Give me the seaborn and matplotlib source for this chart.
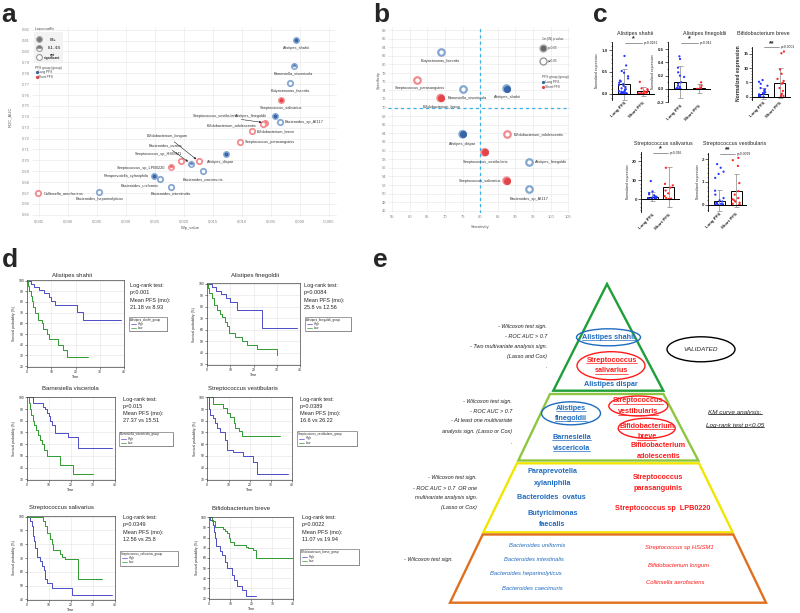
import numpy as np
import pandas as pd
import matplotlib
matplotlib.use("Agg")
import matplotlib.pyplot as plt
import seaborn as sns
from matplotlib import font_manager
from matplotlib.patches import Polygon, Ellipse, Rectangle
from matplotlib.ticker import AutoMinorLocator, FuncFormatter
from matplotlib.transforms import blended_transform_factory

np.random.seed(3)
W, H = 800, 613

# ---------------- panel a: Wilcoxon p value vs ROC AUC ----------------
a_species = ["Alistipes_shahii", "Barnesiella_viscericola", "Butyricimonas_faecalis",
             "Streptococcus_salivarius", "Alistipes_finegoldii", "Bacteroides_sp_AI117",
             "Streptococcus_vestibularis", "Bifidobacterium_adolescentis", "Bifidobacterium_breve",
             "Streptococcus_parasanguinis", "Alistipes_dispar", "Streptococcus_sp_HSISM1",
             "Bacteroides_ovatus", "Bifidobacterium_longum", "Bacteroides_caecimuris",
             "Streptococcus_sp_LPB0220", "Paraprevotella_xylaniphila", "Bacteroides_uniformis",
             "Bacteroides_intestinalis", "Bacteroides_heparinolyticus", "Collinsella_aerofaciens"]
a_pvalue = [0.0006, 0.0011, 0.0017, 0.0033, 0.0043, 0.0035, 0.0060, 0.0063, 0.0083, 0.0103,
            0.0128, 0.0205, 0.0188, 0.0174, 0.0167, 0.0222, 0.0252, 0.0241, 0.0223, 0.0346, 0.0451]
a_auc = [0.811, 0.787, 0.771, 0.755, 0.741, 0.735, 0.7345, 0.733, 0.727, 0.717,
         0.706, 0.699, 0.697, 0.699, 0.690, 0.694, 0.686, 0.683, 0.676, 0.671, 0.670]
a_group = ["Long", "Long", "Long", "Short", "Long", "Long", "Short", "Short", "Short", "Short",
           "Long", "Short", "Long", "Short", "Long", "Short", "Long", "Long", "Long", "Long", "Short"]
a_lasso = ["full", "half", "none", "full", "full", "none", "half", "none", "none", "none",
           "full", "none", "half", "none", "none", "half", "full", "none", "none", "none", "none"]

# ---------------- panel b: sensitivity vs specificity ----------------
b_species = ["Butyricimonas_faecalis", "Streptococcus_parasanguinis", "Barnesiella_viscericola",
             "Alistipes_shahii", "Bifidobacterium_breve", "Alistipes_dispar",
             "Bifidobacterium_adolescentis", "Streptococcus_vestibularis", "Alistipes_finegoldii",
             "Streptococcus_salivarius", "Bacteroides_sp_AI117"]
b_sens = [68.75, 62.0, 75.0, 87.5, 68.75, 75.0, 87.5, 81.25, 93.75, 87.5, 93.75]
b_spec = [82.9, 76.5, 74.4, 74.4, 72.2, 63.8, 63.8, 59.6, 57.4, 53.0, 51.0]
b_group = ["Long", "Short", "Long", "Long", "Short", "Long", "Short", "Short", "Long", "Short", "Long"]
b_sig = [False, False, False, True, True, True, False, True, False, True, False]

# ---------------- panel c: normalised expression ----------------
c_titles = ["Alistipes shahii", "Alistipes finegoldii", "Bifidobacterium breve",
            "Streptococcus salivarius", "Streptococcus vestibularis"]
c_groups = ["Long PFS", "Short PFS"]
c_mean = [[0.21, 0.05], [0.105, 0.01], [1.0, 4.7], [1.3, 6.3], [0.19, 0.62]]
c_sd = [[0.35, 0.10], [0.235, 0.07], [1.9, 5.2], [2.2, 10.7], [0.46, 0.73]]
c_long = [[0.87, 0.65, 0.52, 0.48, 0.40, 0.35, 0.30, 0.28, 0.25, 0.22, 0.20, 0.18, 0.15, 0.12,
           0.10, 0.08, 0.06, 0.05, 0.04, 0.03, 0.02, 0.01, 0.01, 0.0, 0.0, 0.0, 0.0],
          [0.49, 0.45, 0.32, 0.25, 0.20, 0.18, 0.10, 0.08, 0.05, 0.03, 0.02, 0.01, 0.0, 0.0, 0.0, 0.0],
          [5.8, 5.2, 4.5, 3.8, 3.0, 2.5, 2.0, 1.5, 1.2, 1.0, 0.8, 0.5, 0.3, 0.2, 0.1, 0.05, 0.0, 0.0],
          [9.5, 4.0, 3.2, 2.5, 2.0, 1.5, 1.2, 1.0, 0.8, 0.5, 0.3, 0.2, 0.1, 0.0, 0.0, 0.0],
          [1.78, 1.62, 1.45, 1.35, 1.18, 0.62, 0.45, 0.30, 0.20, 0.15, 0.10, 0.08, 0.05, 0.03,
           0.02, 0.01, 0.0, 0.0]]
c_short = [[0.27, 0.12, 0.10, 0.08, 0.05, 0.03, 0.02, 0.01, 0.0, 0.0, 0.0, 0.0, 0.0],
           [0.10, 0.05, 0.02, 0.01, 0.0, 0.0, 0.0, 0.0, 0.0],
           [15.8, 15.2, 9.5, 8.0, 6.2, 5.5, 4.8, 4.5, 3.0, 2.0, 1.0, 0.5, 0.2, 0.0],
           [16.5, 8.0, 7.2, 6.0, 4.5, 3.0, 1.5, 0.5, 0.2, 0.0, 0.0],
           [2.05, 1.95, 1.70, 0.95, 0.60, 0.45, 0.30, 0.25, 0.20, 0.15, 0.10, 0.05, 0.02, 0.0]]
c_stars = ["*", "*", "**", "*", "**"]
c_pvals = ["p=0.0181", "p=0.041", "p<0.0001", "p=0.016", "p=0.0029"]

# ---------------- panel d: Kaplan-Meier curves ----------------
km_titles = ["Alistipes shahii", "Alistipes finegoldii", "Barnesiella visceriola",
             "Streptococcus vestibularis", "Streptococcus salivarius", "Bifidobacterium breve"]
km_groups = ["Alistipes_shahii_group", "Alistipes_finegoldii_group", "Barnesiella_viscericola_group",
             "Streptococcus_vestibularis_group", "Streptococcus_salivarius_group",
             "Bifidobacterium_breve_group"]
km_high_t = [[0, 1.5, 3, 5, 7, 9, 10, 11.5, 20.5, 23.2, 38.8],
             [0, 2, 4, 6, 8, 10, 12.8, 23.5, 38.6],
             [0, 2.9, 7.4, 8.2, 9, 10, 10.5, 11.2, 12.7, 18.8, 23.3, 38.5],
             [0, 1, 1.5, 2.8, 3.5, 4.4, 6, 8.4, 9.2, 12.3, 17, 21.4, 23.3, 38],
             [0, 1.4, 2.3, 2.8, 3.2, 3.8, 4.4, 5.9, 6.7, 7.7, 8.3, 8.9, 11.2, 20.3, 38.5],
             [0, 0.5, 1.7, 2.2, 2.5, 3.4, 5.1, 5.9, 7.6, 8.5, 10.8, 11.6, 13.2, 15.6, 17.3, 22.1]]
km_high_s = [[100, 97, 94, 91, 88, 85, 81, 77, 71, 63, 63],
             [100, 97, 94, 91, 88, 84, 77.7, 61.4, 61.4],
             [100, 95, 92, 90, 87, 84, 80, 76, 69.5, 66.5, 56.6, 56.6],
             [100, 90, 85, 82, 78, 74, 70, 64, 55, 53, 50, 45, 35, 35],
             [100, 97, 93, 86, 82, 77, 71, 68, 64, 61, 55, 52, 48, 43, 43],
             [100, 97, 92, 85, 80, 72, 67, 63, 56, 50, 43, 38, 32, 28, 22, 22]]
km_low_t = [[0, 0.5, 1, 1.5, 2, 2.6, 3.3, 4.7, 6.0, 6.7, 8.1, 9.2, 12.9, 15.0, 16.4, 25.3],
            [0, 0.5, 1, 2, 3, 4.2, 5.5, 6.3, 7.7, 8.5, 9.6, 12, 14.9, 17.1, 21.4, 30],
            [0, 1, 1.5, 2, 2.5, 3, 4, 5, 6, 6.7, 7.5, 9, 15, 21, 30],
            [0, 2.5, 7.6, 9.2, 10.8, 12.4, 13.2, 14.7, 16.3, 34.3],
            [0, 7.4, 8.2, 8.9, 10.5, 11.2, 12, 15, 16, 17.3, 23.3, 34],
            [0, 1.5, 2.5, 6.7, 7.5, 8.3, 9.2, 10, 11.6, 17.3, 18.5, 20.6, 22.3, 40]]
km_low_s = [[100, 95, 90, 86, 81, 75, 70, 63, 60, 55, 50, 45, 40, 35, 28.5, 28.5],
            [100, 96, 92, 88, 82, 77, 74, 71, 67, 63, 57.6, 54, 50, 46.7, 43, 38],
            [100, 95, 90, 85, 80, 76, 72, 68, 64, 60, 55, 50, 42, 34.5, 34.5],
            [100, 94, 91, 87, 83, 78, 74, 71, 67, 67],
            [100, 97, 93, 88, 84, 80, 76, 73, 71, 69, 55, 55],
            [100, 96, 90, 88, 86, 84, 80, 76, 73, 71, 70, 68, 60, 60]]
km_logrank = ["p<0.001", "p=0.0084", "p=0.015", "p=0.0389", "p=0.0349", "p=0.0022"]
km_meanpfs = ["21.18 vs 8.93", "25.8 vs 12.56", "27.37 vs 15.51", "16.6 vs 26.22",
              "12.56 vs 25.8", "11.07 vs 19.94"]

# ---------------- style ----------------
sns.set_theme(style="white")
plt.rcParams["font.family"] = ["Liberation Sans", "DejaVu Sans"]
names = {f.name for f in font_manager.fontManager.ttflist}
E_FONT = "Liberation Sans Narrow" if "Liberation Sans Narrow" in names else "Liberation Sans"
E_K = 1.0 if E_FONT == "Liberation Sans Narrow" else 0.82

FACE = {"Long": "#3565a6", "Short": "#e2444a"}
EDGE = {"Long": "#86a6d2", "Short": "#f08c8f"}
KM_BLUE, KM_GREEN = "#4b4bc6", "#2f9a2f"
E_BLUE, E_RED = "#1f6cc0", "#ff1a1a"

fig = plt.figure(figsize=(W / 100, H / 100), dpi=100)


def px_axes(x0, y0, x1, y1, **kw):
    return fig.add_axes([x0 / W, 1 - y1 / H, (x1 - x0) / W, (y1 - y0) / H], **kw)


def light_grid(ax):
    ax.grid(True, color="#ececec", lw=0.5)
    for s in ax.spines.values():
        s.set_visible(False)
    ax.tick_params(length=0, labelsize=3.0, labelcolor="#888888", pad=1.5)


# ---------------- panel a ----------------
ax = px_axes(32, 27, 337, 217)
df_a = pd.DataFrame({"species": a_species, "p": a_pvalue, "auc": a_auc,
                     "group": a_group, "lasso": a_lasso})
for (g, lv), sub in df_a.groupby(["group", "lasso"]):
    if lv == "full":
        sns.scatterplot(data=sub, x="p", y="auc", ax=ax, s=15, color=FACE[g],
                        edgecolor=EDGE[g], linewidth=1.1, zorder=3, legend=False)
    elif lv == "none":
        sns.scatterplot(data=sub, x="p", y="auc", ax=ax, s=15, color="white",
                        edgecolor=EDGE[g], linewidth=1.3, zorder=3, legend=False)
    else:
        ax.plot(sub["p"], sub["auc"], "o", ms=3.9, fillstyle="top", mfc=FACE[g],
                markerfacecoloralt="white", mec=EDGE[g], mew=1.1, zorder=3)

a_labels = {  # ha, dx px, dy px, arrow
    "Alistipes_shahii": ("center", 0, 8, False), "Barnesiella_viscericola": ("center", 0, 8, False),
    "Butyricimonas_faecalis": ("center", 0, 8, False), "Streptococcus_salivarius": ("center", 0, 8, False),
    "Alistipes_finegoldii": ("right", -8, 0, False), "Bacteroides_sp_AI117": ("left", 5, 0, False),
    "Streptococcus_vestibularis": ("right", -27, -7, True),
    "Bifidobacterium_adolescentis": ("right", -7, 1, False),
    "Bifidobacterium_breve": ("left", 5, 0, False), "Streptococcus_parasanguinis": ("left", 5, 0, False),
    "Alistipes_dispar": ("center", -5, 8, False), "Streptococcus_sp_HSISM1": ("right", 1, -7.5, False),
    "Bacteroides_ovatus": ("right", -9, -18.5, True), "Bifidobacterium_longum": ("right", -11, -25, True),
    "Bacteroides_caecimuris": ("center", 0, 7.7, False), "Streptococcus_sp_LPB0220": ("right", -6, 0.6, False),
    "Paraprevotella_xylaniphila": ("right", -5, 0, False), "Bacteroides_uniformis": ("right", -2, 6, False),
    "Bacteroides_intestinalis": ("center", 0, 7, False), "Bacteroides_heparinolyticus": ("center", 0, 7.5, False),
    "Collinsella_aerofaciens": ("left", 5, 0, False),
}
for name, p, auc in zip(a_species, a_pvalue, a_auc):
    ha, dx, dy, arrow = a_labels[name]
    ax.annotate(name, xy=(p, auc), xytext=(dx * 0.72, -dy * 0.72), textcoords="offset points",
                ha=ha, va="center", fontsize=2.8, color="#333333", zorder=4,
                arrowprops=dict(arrowstyle="-|>", lw=0.4, color="#222222", mutation_scale=3,
                                shrinkA=0, shrinkB=2.5) if arrow else None)
ax.set_xlim(0.0462, -0.0064)
ax.set_ylim(0.648, 0.8225)
ax.set_xticks([round(v, 3) for v in np.arange(-0.005, 0.0451, 0.005)])
ax.set_yticks([round(v, 2) for v in np.arange(0.65, 0.821, 0.01)])
ax.xaxis.set_major_formatter(FuncFormatter(lambda v, _: f"{round(v, 4) + 0.0:.3f}".replace(".", ",")))
ax.yaxis.set_major_formatter(FuncFormatter(lambda v, _: f"{v:.2f}"))
light_grid(ax)
ax.set_xlabel("")
ax.set_ylabel("")

# ---------------- panel b ----------------
bx = px_axes(388, 27, 570, 213)
df_b = pd.DataFrame({"species": b_species, "sens": b_sens, "spec": b_spec,
                     "group": b_group, "sig": b_sig})
for (g, sig), sub in df_b.groupby(["group", "sig"]):
    if sig:
        sns.scatterplot(data=sub, x="sens", y="spec", ax=bx, s=40, color=EDGE[g],
                        edgecolor="none", zorder=2, legend=False)
        sns.scatterplot(data=sub, x="sens", y="spec", ax=bx, s=20, color=FACE[g],
                        edgecolor=FACE[g], linewidth=0.6, zorder=3, legend=False)
    else:
        sns.scatterplot(data=sub, x="sens", y="spec", ax=bx, s=22, color="white",
                        edgecolor=EDGE[g], linewidth=1.6, zorder=3, legend=False)
b_labels = {
    "Butyricimonas_faecalis": ("center", 0, 9), "Streptococcus_parasanguinis": ("center", 3, 8.5),
    "Barnesiella_viscericola": ("center", 5, 8.7), "Alistipes_shahii": ("center", 0.6, 8.7),
    "Bifidobacterium_breve": ("center", 0.7, 8.7), "Alistipes_dispar": ("center", 0, 10),
    "Bifidobacterium_adolescentis": ("left", 7, 0), "Streptococcus_vestibularis": ("center", 0.7, 10),
    "Alistipes_finegoldii": ("left", 6.7, 0), "Streptococcus_salivarius": ("right", -5.7, 0),
    "Bacteroides_sp_AI117": ("center", 0, 10),
}
for name, x, y in zip(b_species, b_sens, b_spec):
    ha, dx, dy = b_labels[name]
    bx.annotate(name, xy=(x, y), xytext=(dx * 0.72, -dy * 0.72), textcoords="offset points",
                ha=ha, va="center", fontsize=2.8, color="#333333", zorder=4)
bx.axvline(80, color="#3aaee8", lw=0.9, ls=(0, (2.5, 2.5)), zorder=1)
bx.axhline(70, color="#3aaee8", lw=0.9, ls=(0, (2.5, 2.5)), zorder=1)
bx.set_xlim(53.8, 105.5)
bx.set_ylim(45.5, 88.7)
bx.set_xticks(range(55, 106, 5))
bx.set_yticks(range(46, 89, 2))
light_grid(bx)
bx.tick_params(axis="y", pad=1.0)
bx.set_xlabel("")
bx.set_ylabel("")

# ---------------- panel c ----------------
c_layout = [  # axes px box, ylim, yticks, fmt, minor subdivisions, ylabel size
    ((611.7, 41.7, 655.0, 100.0), (-0.15, 1.2), [0, 0.5, 1.0], "{:.1f}", 5, 2.4),
    ((668.3, 41.7, 711.0, 102.3), (-0.2, 0.71), [-0.2, 0, 0.2, 0.4, 0.6], "{:.1f}", 2, 2.4),
    ((752.3, 46.7, 790.5, 100.0), (-1.2, 17.5), [0, 5, 10, 15], "{:.0f}", 5, 3.6),
    ((641.0, 151.7, 680.0, 211.7), (-6.7, 25), [0, 10, 20], "{:.0f}", 5, 2.4),
    ((708.3, 153.3, 747.0, 210.7), (-0.25, 2.25), [0, 1, 2], "{:.0f}", 5, 2.4),
]
c_title_pos = [(635, 33.3), (705, 33.3), (763, 33.3), (663, 143.3), (735, 143.3)]
for i, (box, ylim, yt, fmt, nminor, ylsize) in enumerate(c_layout):
    cx = px_axes(*box)
    sns.barplot(x=c_groups, y=c_mean[i], ax=cx, fill=False, color="black", linewidth=0.7,
                width=0.65, errorbar=None)
    cx.errorbar([0, 1], c_mean[i], yerr=c_sd[i], fmt="none", ecolor="#9a9a9a",
                elinewidth=0.6, capsize=1.8, capthick=0.6, zorder=1)
    df_c = pd.DataFrame({"grp": [c_groups[0]] * len(c_long[i]) + [c_groups[1]] * len(c_short[i]),
                         "val": c_long[i] + c_short[i]})
    sns.stripplot(data=df_c, x="grp", y="val", hue="grp", order=c_groups,
                  palette={"Long PFS": "#2335ff", "Short PFS": "#ff2020"},
                  size=1.6, jitter=0.28, ax=cx, legend=False, zorder=2)
    cx.axhline(0, color="black", lw=0.7, zorder=3)
    cx.set_xlim(-0.65, 1.65)
    cx.set_ylim(*ylim)
    cx.set_yticks(yt)
    cx.set_yticklabels([fmt.format(v) for v in yt], fontweight="bold")
    cx.yaxis.set_minor_locator(AutoMinorLocator(nminor))
    for s in ["top", "right", "bottom"]:
        cx.spines[s].set_visible(False)
    cx.spines["left"].set_linewidth(0.6)
    cx.spines["left"].set_color("black")
    cx.tick_params(axis="y", which="major", length=2, width=0.5, labelsize=3.2, pad=1, left=True)
    cx.tick_params(axis="y", which="minor", length=1, width=0.4, left=True)
    cx.tick_params(axis="x", length=0, labelsize=3.2, pad=1)
    for lab in cx.get_xticklabels():
        lab.set_rotation(45)
        lab.set_ha("right")
        lab.set_rotation_mode("anchor")
        lab.set_fontweight("bold")
    cx.set_xlabel("")
    cx.set_ylabel("Normalized expression", fontsize=ylsize, labelpad=1.5,
                  fontweight="bold" if ylsize > 3 else "normal")
    tr = blended_transform_factory(cx.transData, cx.transAxes)
    cx.plot([0.05, 0.95], [0.985, 0.985], color="#888888", lw=0.6, transform=tr, clip_on=False)
    cx.text(0.5, 0.995, c_stars[i], transform=tr, ha="center", va="bottom",
            fontsize=5, fontweight="bold")
    cx.text(1.05, 0.985, c_pvals[i], transform=tr, ha="left", va="center", fontsize=2.4)
    fig.text(c_title_pos[i][0] / W, 1 - c_title_pos[i][1] / H, c_titles[i],
             ha="center", va="center", fontsize=3.9)

# ---------------- panel d ----------------
km_layout = [  # axes px box, ylim, text anchor, legend box, title centre
    ((27, 280, 124, 366.7), (20, 100), (130, 285.7), (129, 317, 167, 331), (72, 275)),
    ((207, 283.3, 300, 365), (30, 100), (304, 285.7), (305, 317, 351, 331), (255, 275)),
    ((27, 396.7, 115, 480), (30, 100), (123, 399.3), (119, 431.7, 173, 445.7), (70, 388.3)),
    ((207.3, 396.7, 292.3, 480), (30, 100), (300, 399.3), (297, 431, 356.7, 446), (243, 388.3)),
    ((27, 516, 115, 600), (40, 100), (123, 517.7), (120, 551, 177.7, 565.7), (61, 507.7)),
    ((209.3, 516.7, 293.3, 599), (20, 100), (301.7, 517.7), (300, 549, 359, 565), (241, 509)),
]
for i, (box, ylim, _, _, _) in enumerate(km_layout):
    kx = px_axes(*box)
    sns.lineplot(x=km_high_t[i], y=km_high_s[i], ax=kx, color=KM_BLUE, lw=0.7,
                 drawstyle="steps-post", estimator=None, sort=False)
    sns.lineplot(x=km_low_t[i], y=km_low_s[i], ax=kx, color=KM_GREEN, lw=0.7,
                 drawstyle="steps-post", estimator=None, sort=False)
    kx.set_xlim(0, 40)
    kx.set_ylim(ylim[0] - 0.5, 100.5)
    kx.set_xticks([0, 10, 20, 30, 40])
    kx.set_yticks(range(ylim[0], 101, 10))
    kx.grid(True, color="#e3e3e3", lw=0.4)
    for s in kx.spines.values():
        s.set_linewidth(0.5)
        s.set_color("#444444")
    kx.tick_params(length=1.2, width=0.4, labelsize=2.4, pad=1, bottom=True, left=True)
    kx.set_xlabel("Time", fontsize=2.4, labelpad=1)
    kx.set_ylabel("Survival probability (%)", fontsize=2.4, labelpad=1.5)

# ---------------- overlay: letters, legends, texts, panel e ----------------
ov = fig.add_axes([0, 0, 1, 1], zorder=10)
ov.set_xlim(0, W)
ov.set_ylim(H, 0)
ov.axis("off")

for letter, x, y in [("a", 1.7, 21.7), ("b", 373, 21.7), ("c", 593, 21.7),
                     ("d", 1.7, 266.7), ("e", 373, 266.7)]:
    ov.text(x, y, letter, fontsize=19, fontweight="bold", ha="left", va="baseline")

# axis titles of a and b
ov.text(190, 228.3, "W.p_value", fontsize=3.0, color="#555555", ha="center", va="center")
ov.text(10, 117, "ROC_AUC", fontsize=3.0, color="#555555", ha="center", va="center", rotation=90)
ov.text(480, 227.3, "Sensitivity", fontsize=3.0, color="#555555", ha="center", va="center")
ov.text(378.5, 80, "Specificity", fontsize=2.9, color="#555555", ha="center", va="center", rotation=90)

# legend a
ov.add_patch(Rectangle((34, 32), 29, 30, fc="#f3f3f3", ec="none"))
ov.text(35, 29.5, "Lasso coeff/n", fontsize=2.3, color="#444444", va="center")
ov.plot([39.3], [39.3], "o", ms=4.2, mfc="#777777", mec="#aaaaaa", mew=0.8)
ov.plot([39.3], [48.3], "o", ms=4.2, fillstyle="top", mfc="#777777", markerfacecoloralt="white",
        mec="#999999", mew=0.8)
ov.plot([39.3], [56.7], "o", ms=4.2, mfc="white", mec="#999999", mew=0.8)
ov.text(50, 40, "0.5+", fontsize=2.3, fontweight="bold", va="center")
ov.text(48, 48.3, "0.1 - 0.5", fontsize=2.3, fontweight="bold", va="center")
ov.text(52, 56.5, "not\nsignificant", fontsize=2.3, fontweight="bold", va="center", ha="center",
        linespacing=0.9)
ov.text(35, 68.3, "PFS group (group)", fontsize=2.3, color="#444444", va="center")
ov.plot([36.5], [72], "o", ms=1.3, color=FACE["Long"])
ov.text(38.5, 72, "Long PFS", fontsize=2.3, color="#444444", va="center")
ov.plot([36.5], [76.5], "o", ms=1.3, color=FACE["Short"])
ov.text(38.5, 76.5, "Short PFS", fontsize=2.3, color="#444444", va="center")

# legend b
ov.text(552.7, 39.3, "1st |W| p value", fontsize=2.3, color="#444444", ha="center", va="center")
ov.plot([542.7], [48.3], "o", ms=5, mfc="#666666", mec="#aaaaaa", mew=1.0)
ov.text(547.5, 48.3, "p<0.05", fontsize=2.3, color="#444444", va="center")
ov.plot([542.7], [60.7], "o", ms=5, mfc="white", mec="#999999", mew=1.0)
ov.text(547.5, 60.7, "p≥0.05", fontsize=2.3, color="#444444", va="center")
ov.text(541.7, 77.3, "PFS group (group)", fontsize=2.3, color="#444444", va="center")
ov.plot([543], [81.7], "o", ms=1.3, color=FACE["Long"])
ov.text(545, 81.7, "Long PFS", fontsize=2.3, color="#444444", va="center")
ov.plot([543], [86.7], "o", ms=1.3, color=FACE["Short"])
ov.text(545, 86.7, "Short PFS", fontsize=2.3, color="#444444", va="center")

# KM titles, log-rank texts and legends
for i, (box, ylim, (tx, ty), (lx0, ly0, lx1, ly1), (ttx, tty)) in enumerate(km_layout):
    ov.text(ttx, tty, km_titles[i], fontsize=4.3, ha="center", va="center")
    for j, line in enumerate(["Log-rank test:", km_logrank[i], "Mean PFS (mo):", km_meanpfs[i]]):
        ov.text(tx, ty + 7.2 * j, line, fontsize=4.0, ha="left", va="center")
    ov.add_patch(Rectangle((lx0 + 0.9, ly0 + 0.9), lx1 - lx0, ly1 - ly0, fc="#b0b0b0", ec="none"))
    ov.add_patch(Rectangle((lx0, ly0), lx1 - lx0, ly1 - ly0, fc="white", ec="#555555", lw=0.4))
    hh = ly1 - ly0
    ov.text(lx0 + 1.2, ly0 + hh * 0.2, km_groups[i], fontsize=2.1, va="center")
    ov.plot([lx0 + 2, lx0 + 7], [ly0 + hh * 0.5] * 2, color=KM_BLUE, lw=0.5)
    ov.text(lx0 + 8.5, ly0 + hh * 0.5, "High", fontsize=2.1, va="center")
    ov.plot([lx0 + 2, lx0 + 7], [ly0 + hh * 0.78] * 2, color=KM_GREEN, lw=0.5)
    ov.text(lx0 + 8.5, ly0 + hh * 0.78, "Low", fontsize=2.1, va="center")

# panel e pyramid
levels = [
    ([(607, 284), (663.3, 390.7), (553.3, 390.7)], "#1f9e3a"),
    ([(550, 394), (663.5, 394), (698.3, 460.5), (518.3, 460.5)], "#8dc63f"),
    ([(517, 463.3), (699, 463.3), (732.7, 532.3), (483.3, 532.3)], "#f2e600"),
    ([(482.7, 534.5), (733.3, 534.5), (766, 602.7), (450, 602.7)], "#e0701f"),
]
for pts, col in levels:
    ov.add_patch(Polygon(pts, closed=True, fill=False, ec=col, lw=1.7, joinstyle="miter"))

for (cx_, cy_, w_, h_, col) in [(608.5, 337.3, 64, 17, E_BLUE), (611, 365.7, 68, 28, E_RED),
                                (701, 349.3, 68, 25, "black"), (571, 413.3, 59, 23, E_BLUE),
                                (638.3, 406, 59, 20, E_RED), (646.7, 428.3, 57, 20, E_RED)]:
    ov.add_patch(Ellipse((cx_, cy_), w_, h_, fill=False, ec=col, lw=1.0))

e_desc = [  # right edge x, y, text
    (547, 326.7, "- Wilcoxon test sign."), (547, 336.3, "- ROC AUC > 0.7"),
    (547, 346.3, "- Two multivariate analysis sign."), (547, 356.3, "(Lasso and Cox)"),
    (547, 366.7, "."),
    (512, 401.7, "- Wilcoxon test sign."), (512, 411.3, "- ROC AUC > 0.7"),
    (512, 421, "- At least one multivariate"), (512, 431, "analysis sign. (Lasso or Cox)"),
    (512, 442.7, "."),
    (477, 478, "- Wilcoxon test sign."), (477, 488, "- ROC AUC > 0.7  OR one"),
    (477, 497.7, "multivariate analysis sign."), (477, 507, "(Lasso or Cox)"),
    (453.3, 559.3, "- Wilcoxon test sign."),
]
for x, y, s in e_desc:
    ov.text(x, y, s, fontsize=4.8 * E_K, style="italic", family=E_FONT, ha="right", va="center",
            color="#222222")

underlined = []
e_species = [  # x, y, text, colour, weight, italic, underline
    (609, 337.3, "Alistipes shahii", E_BLUE, "bold", False, True),
    (611.5, 360, "Streptococcus", E_RED, "bold", False, True),
    (611.5, 371, "salivarius", E_RED, "bold", False, True),
    (610.7, 384, "Alistipes dispar", E_BLUE, "bold", False, False),
    (571, 408.3, "Alistipes", E_BLUE, "bold", False, True),
    (571, 418.3, "finegoldii", E_BLUE, "bold", False, True),
    (571.7, 437.3, "Barnesiella", E_BLUE, "bold", False, True),
    (571.7, 448.3, "viscericola", E_BLUE, "bold", False, True),
    (638.3, 400.7, "Streptococcus", E_RED, "bold", False, True),
    (638.3, 411.7, "vestibularis", E_RED, "bold", False, True),
    (646.7, 426, "Bifidobacterium", E_RED, "bold", False, True),
    (646.7, 436.7, "breve", E_RED, "bold", False, True),
    (658.3, 445.7, "Bifidobacterium", E_RED, "bold", False, False),
    (658.3, 456, "adolescentis", E_RED, "bold", False, False),
    (552.3, 471.7, "Paraprevotella", E_BLUE, "bold", False, False),
    (552.3, 483.3, "xylaniphila", E_BLUE, "bold", False, False),
    (551.7, 497.7, "Bacteroides  ovatus", E_BLUE, "bold", False, False),
    (552.3, 513.3, "Butyricimonas", E_BLUE, "bold", False, False),
    (552.3, 524, "faecalis", E_BLUE, "bold", False, False),
    (658.3, 477.7, "Streptococcus", E_RED, "bold", False, False),
    (658.3, 488.3, "parasanguinis", E_RED, "bold", False, False),
    (662.3, 509, "Streptococcus sp  LPB0220", E_RED, "bold", False, False),
    (536.7, 545.7, "Bacteroides uniformis", E_BLUE, "normal", True, False),
    (534, 559.3, "Bacteroides intestinalis", E_BLUE, "normal", True, False),
    (526, 573.3, "Bacteroides heparinolyticus", E_BLUE, "normal", True, False),
    (532.7, 588.3, "Bacteroides caecimuris", E_BLUE, "normal", True, False),
    (679.3, 547.7, "Streptococcus sp HSISM1", E_RED, "normal", True, False),
    (678.7, 565, "Bifidobacterium longum", E_RED, "normal", True, False),
    (675.3, 582.7, "Collinsella aerofaciens", E_RED, "normal", True, False),
]
for x, y, s, col, wt, it, ul in e_species:
    size = (6.4 if wt == "bold" else 5.2) * E_K
    t = ov.text(x, y, s, fontsize=size, fontweight=wt, style="italic" if it else "normal",
                family=E_FONT, color=col, ha="center", va="center")
    if ul:
        underlined.append((t, col))

ov.text(701, 349.3, "VALIDATED", fontsize=5.6 * E_K, style="italic", family=E_FONT,
        ha="center", va="center")
for y, s in [(412.3, "KM curve analysis:"), (425, "Log-rank test p<0.05")]:
    t = ov.text(735, y, s, fontsize=5.6 * E_K, style="italic", family=E_FONT,
                ha="center", va="center")
    underlined.append((t, "black"))

fig.canvas.draw()
inv = ov.transData.inverted()
for t, col in underlined:
    bb = t.get_window_extent()
    (x0, yb), (x1, _) = inv.transform([(bb.x0, bb.y0), (bb.x1, bb.y0)])
    ov.plot([x0, x1], [yb - 0.6, yb - 0.6], color=col, lw=0.5)

fig.savefig("out.png", dpi=100)
